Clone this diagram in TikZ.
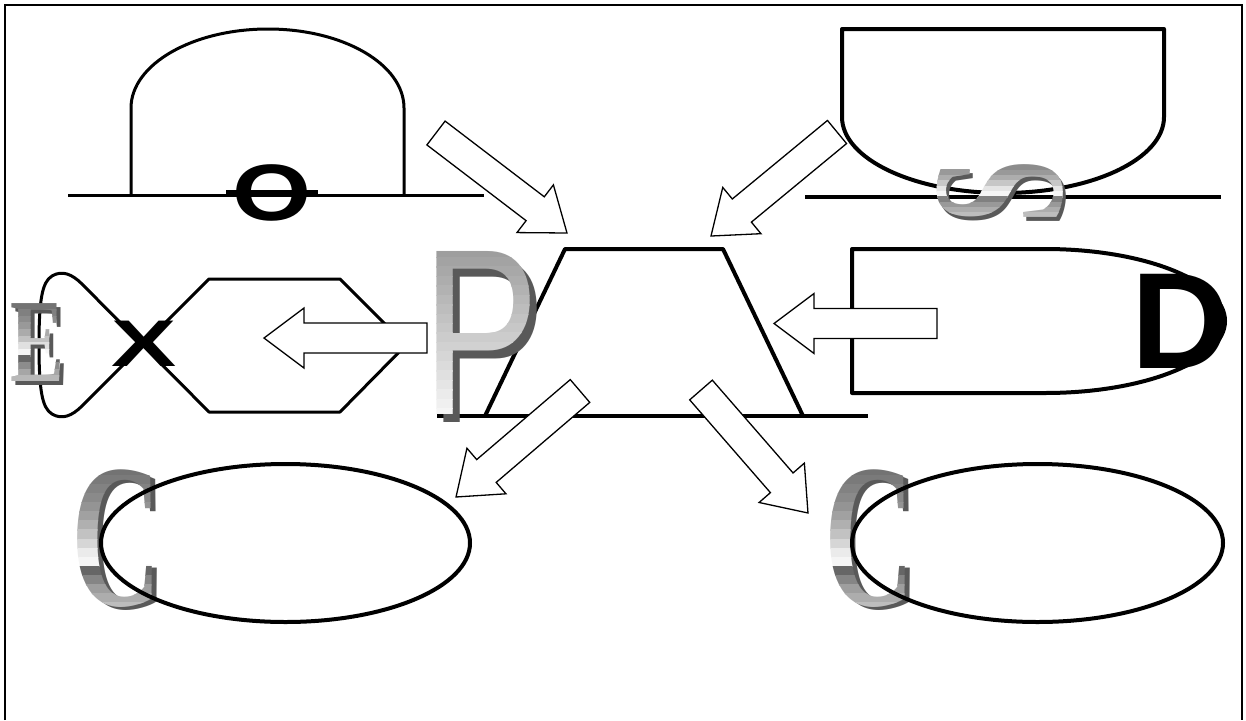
\documentclass[tikz,border=0pt]{standalone}
\usepackage{fontspec}
\usepackage{graphicx}
\newfontfamily\sansf{Liberation Sans}
\newfontfamily\seriff{Liberation Serif}
\newcommand{\Pglyph}{\scalebox{0.74}[1]{\sansf\fontsize{237}{237}\selectfont P}}
\newcommand{\Cglyph}{\scalebox{0.61}[1]{\seriff\bfseries\fontsize{205}{205}\selectfont C}}
\newcommand{\Eglyph}{\scalebox{0.68}[1]{\seriff\bfseries\fontsize{119}{119}\selectfont E}}
\newcommand{\Sglyph}{\scalebox{0.61}[1]{\seriff\bfseries\fontsize{188}{188}\selectfont S}}
\newcommand{\Oglyph}{\scalebox{1.27}[1]{\sansf\bfseries\fontsize{80}{80}\selectfont O}}
\newcommand{\Xglyph}{\scalebox{1.48}[1]{\sansf\bfseries\fontsize{66}{66}\selectfont X}}
\newcommand{\Dglyph}{\sansf\bfseries\fontsize{137}{137}\selectfont D}
% #1 name, #2 x, #3 y, #4 glyph, #5 top y, #6 band height, #7 last index, #8 shades, #9 rotation
\newcommand{\metalbands}[9]{%
  \foreach \shd [count=\i from 0] in {#8} {
    \pgfmathsetmacro\ya{\i==0 ? #5-100 : #5+\i*#6}
    \pgfmathsetmacro\yb{\i==#7 ? #5+(\i+1)*#6+100 : #5+(\i+1)*#6+0.4}
    \begin{scope}
      \clip (#2-250,\ya) rectangle (#2+250,\yb);
      \node[glyph, rotate=#9, text=black!\shd!white] (#1\i) at (#2,#3) {#4};
    \end{scope}
  }}
\tikzset{
  frameline/.style={line width=2pt},
  thinshape/.style={line width=3pt, line join=round},
  thickshape/.style={line width=4pt, line join=round},
  arrowline/.style={draw=black, fill=white, line width=1.3pt, line join=miter},
  glyph/.style={inner sep=0pt, outer sep=0pt},
  extrude/.style={glyph, text=black!65!white},
  pics/barrow/.style={code={
    \draw[arrowline] (0,-15) -- ({#1-40},-15) -- ({#1-40},-30) -- (#1,0)
      -- ({#1-40},30) -- ({#1-40},15) -- (0,15) -- cycle;}}
}
\begin{document}
\begin{tikzpicture}[x=1pt,y=-1pt]
\useasboundingbox (0,0) rectangle (1246,720);
% frame
\draw[frameline] (5,720) -- (5,5) -- (1242,5) -- (1242,720);

% top-left dome with O
\draw[thinshape] (68,195) -- (484,195);
\draw[thinshape] (131,195) -- (131,108) .. controls (131,64.4) and (192.6,29) .. (268,29)
  .. controls (343.4,29) and (404,64.4) .. (404,108) -- (404,195);
\draw[line width=7pt] (226,193.5) -- (318,193.5);
\node[glyph] (O) at (272,193) {\Oglyph};

% top-right bowl with S
\draw[thickshape] (842,29) -- (842,117) .. controls (842,159) and (914,193) .. (1003,193)
  .. controls (1092,193) and (1164,159) .. (1164,117) -- (1164,29) -- cycle;
\draw[thickshape] (805,197) -- (1221,197);
\node[extrude, rotate=90] (Ssh) at (1003,196) {\Sglyph};
\metalbands{Sb}{1000}{192}{\Sglyph}{165}{5.3}{9}{45,40,32,22,10,4,50,40,32,26}{90}

% left loop hexagon with X and E
\draw[thinshape] (340,279) -- (209,279) -- (82,406) .. controls (72,416) and (62,420) .. (52,414)
  .. controls (42,408) and (39,390) .. (39,345) .. controls (39,300) and (42,282) .. (52,276)
  .. controls (62,270) and (72,274) .. (82,284) -- (209,412) -- (340,412) -- (406,345) -- cycle;
\node[glyph] (X) at (144.5,343.5) {\Xglyph};
\node[extrude] (Esh) at (41.5,346.5) {\Eglyph};
\metalbands{Eb}{37.5}{342.5}{\Eglyph}{303}{6.6}{11}{55,50,45,40,33,24,12,4,60,45,35,28}{0}

% centre trapezoid with P
\draw[thickshape] (437,416) -- (868,416);
\draw[thickshape] (485,416) -- (565,249) -- (723,249) -- (803,416);
\node[extrude] (Psh) at (488,341) {\Pglyph};
\metalbands{Pb}{481}{333}{\Pglyph}{248}{9.44}{17}{38,36,34,32,30,28,26,24,22,20,18,16,14,12,10,8,6,4}{0}

% right bullet shape with D
\draw[thickshape] (1045,249) -- (852,249) -- (852,393) -- (1045,393)
  .. controls (1144.4,393) and (1225,360.8) .. (1225,321)
  .. controls (1225,281.2) and (1144.4,249) .. (1045,249) -- cycle;
\node[glyph] (D) at (1180.5,321) {\Dglyph};

% bottom ellipses with C
\node[extrude] (CLsh) at (122,542) {\Cglyph};
\metalbands{CLb}{117}{539}{\Cglyph}{466}{9.125}{15}{55,52,49,46,42,37,31,24,16,8,4,60,48,38,32,26}{0}
\node[extrude] (CRsh) at (874.5,542) {\Cglyph};
\metalbands{CRb}{869.5}{539}{\Cglyph}{466}{9.125}{15}{55,52,49,46,42,37,31,24,16,8,4,60,48,38,32,26}{0}
\draw[thickshape] (285.5,543) ellipse [x radius=184.5, y radius=79];
\draw[thickshape] (1037.5,543) ellipse [x radius=185.5, y radius=79];

% block arrows
\pic[rotate=-37.36] (aTL) at (436,133) {barrow=164.8};
\pic[rotate=-140.46] (aTR) at (837,132) {barrow=163.4};
\pic[rotate=180] (aL) at (427,338) {barrow=163};
\pic[rotate=180] (aR) at (937,323.5) {barrow=163};
\pic[rotate=-139.47] (aBL) at (580,391) {barrow=163.1};
\pic[rotate=-48.98] (aBR) at (701,390) {barrow=163};
\end{tikzpicture}
\end{document}
